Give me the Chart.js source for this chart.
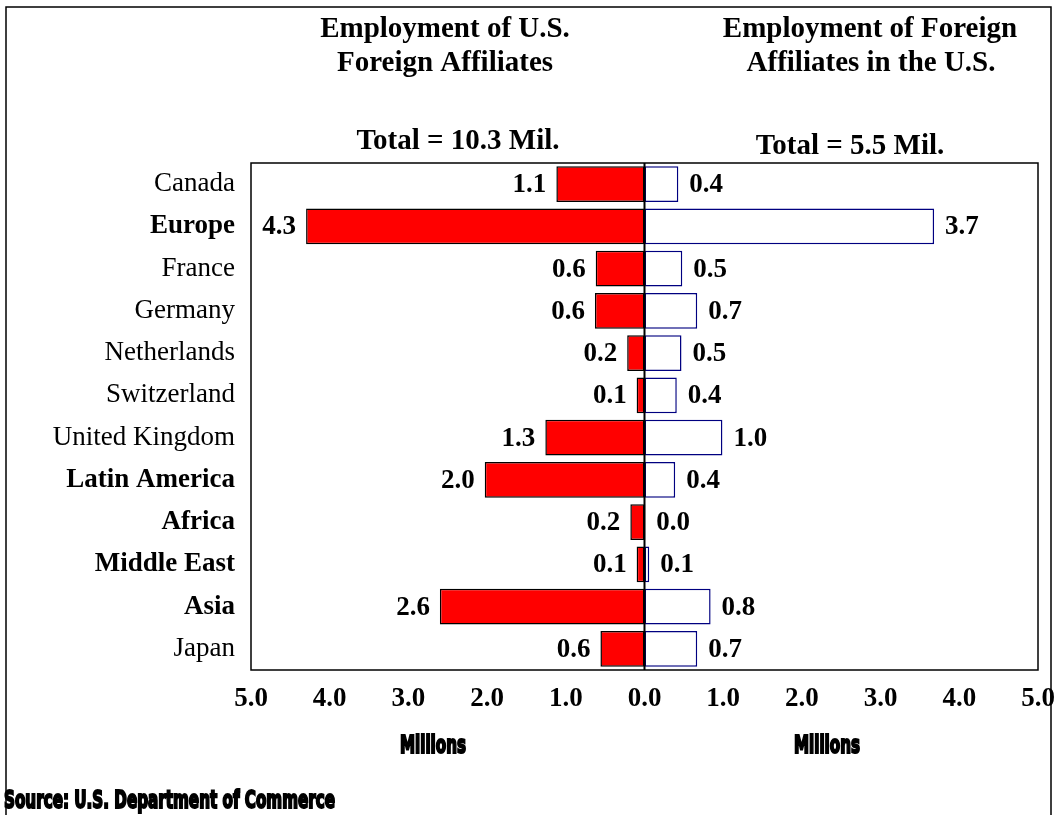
<!DOCTYPE html>
<html>
<head>
    <script src="https://cdn.jsdelivr.net/npm/chart.js@4.4.0/dist/chart.umd.min.js"></script>
    <style>
        body { margin: 0; background: #fff; }
    </style>
</head>
<body>
<canvas id="myChart" width="1058" height="815"></canvas>

<script>
    const regions = ["Canada", "Europe", "France", "Germany", "Netherlands", "Switzerland",
        "United Kingdom", "Latin America", "Africa", "Middle East", "Asia", "Japan"];
    const boldRegions = ["Europe", "Latin America", "Africa", "Middle East", "Asia"];
    // employment of U.S. foreign affiliates abroad (millions)
    const usAbroad = [1.12, 4.3, 0.62, 0.63, 0.22, 0.1, 1.26, 2.03, 0.18, 0.1, 2.6, 0.56];
    const usAbroadLabels = ["1.1", "4.3", "0.6", "0.6", "0.2", "0.1", "1.3", "2.0", "0.2", "0.1", "2.6", "0.6"];
    // employment of foreign affiliates in the U.S. (millions)
    const foreignInUS = [0.43, 3.68, 0.48, 0.67, 0.47, 0.41, 0.99, 0.39, 0.01, 0.06, 0.84, 0.67];
    const foreignInUSLabels = ["0.4", "3.7", "0.5", "0.7", "0.5", "0.4", "1.0", "0.4", "0.0", "0.1", "0.8", "0.7"];
    const axisTicks = [-5, -4, -3, -2, -1, 0, 1, 2, 3, 4, 5];

    const serif = "'Liberation Serif', 'Times New Roman', serif";

    function condensedText(ctx, text, x, y, targetWidth, size) {
        ctx.save();
        ctx.font = "bold " + size + "px 'DejaVu Sans Condensed', 'DejaVu Sans', sans-serif";
        let w = ctx.measureText(text).width;
        let sx = targetWidth / w;
        ctx.translate(x, y);
        ctx.scale(sx, 1);
        ctx.textAlign = "left";
        ctx.textBaseline = "middle";
        ctx.lineWidth = 2;
        ctx.strokeStyle = "#000";
        ctx.fillStyle = "#000";
        ctx.fillText(text, 0, 0);
        ctx.strokeText(text, 0, 0);
        ctx.restore();
    }

    const decorations = {
        id: "decorations",
        afterDatasetsDraw(chart) {
            const ctx = chart.ctx;
            const area = chart.chartArea;
            const xs = chart.scales.x;

            // value labels
            ctx.save();
            ctx.font = "bold 27px " + serif;
            ctx.fillStyle = "#000";
            ctx.textBaseline = "middle";
            chart.getDatasetMeta(0).data.forEach((bar, i) => {
                ctx.textAlign = "right";
                ctx.fillText(usAbroadLabels[i], bar.x - 10, bar.y + 1);
            });
            chart.getDatasetMeta(1).data.forEach((bar, i) => {
                ctx.textAlign = "left";
                ctx.fillText(foreignInUSLabels[i], bar.x + 11, bar.y + 1);
            });

            // plot box and zero line
            ctx.strokeStyle = "#000";
            ctx.lineWidth = 1.5;
            ctx.strokeRect(area.left, area.top, area.right - area.left, area.bottom - area.top);
            const x0 = xs.getPixelForValue(0);
            ctx.lineWidth = 2;
            ctx.beginPath();
            ctx.moveTo(x0, area.top);
            ctx.lineTo(x0, area.bottom);
            ctx.stroke();
            ctx.restore();
        },
        afterDraw(chart) {
            const ctx = chart.ctx;
            ctx.save();
            // outer frame
            ctx.strokeStyle = "#000";
            ctx.lineWidth = 1.5;
            ctx.beginPath();
            ctx.moveTo(6, 830);
            ctx.lineTo(6, 7);
            ctx.lineTo(1051, 7);
            ctx.lineTo(1051, 830);
            ctx.stroke();

            ctx.fillStyle = "#000";
            ctx.textAlign = "center";
            ctx.textBaseline = "middle";
            ctx.font = "bold 29px " + serif;
            ctx.fillText("Employment of U.S.", 445, 30);
            ctx.fillText("Foreign Affiliates", 445, 64);
            ctx.fillText("Employment of Foreign", 870, 30);
            ctx.fillText("Affiliates in the U.S.", 871, 64);
            ctx.fillText("Total = 10.3 Mil.", 458, 142);
            ctx.fillText("Total = 5.5 Mil.", 850, 147);
            ctx.restore();

            condensedText(ctx, "Millions", 400, 746, 66, 25);
            condensedText(ctx, "Millions", 794, 746, 66, 25);
            condensedText(ctx, "Source: U.S. Department of Commerce", 4, 801, 331, 25);
        }
    };

    new Chart("myChart", {
        type: "bar",
        data: {
            labels: regions,
            datasets: [{
                data: usAbroad.map(v => -v),
                backgroundColor: "#ff0000",
                borderColor: "#000000",
                borderWidth: 1.5,
                borderSkipped: false,
                stack: "s"
            }, {
                data: foreignInUS,
                backgroundColor: "#ffffff",
                borderColor: "#000080",
                borderWidth: 1.5,
                borderSkipped: false,
                stack: "s"
            }]
        },
        options: {
            indexAxis: "y",
            responsive: false,
            animation: false,
            devicePixelRatio: 1,
            datasets: {
                bar: { categoryPercentage: 1, barPercentage: 0.85 }
            },
            layout: { padding: { top: 163, right: 20, bottom: 105, left: 0 } },
            plugins: {
                legend: { display: false },
                tooltip: { enabled: false }
            },
            scales: {
                x: {
                    stacked: true,
                    min: -5,
                    max: 5,
                    afterBuildTicks: scale => {
                        scale.ticks = axisTicks.map(v => ({ value: v }));
                    },
                    afterFit: scale => {
                        scale.height = 40;
                        scale.paddingLeft = 0;
                        scale.paddingRight = 0;
                    },
                    grid: { display: false, drawTicks: false },
                    border: { display: false },
                    ticks: {
                        color: "#000",
                        padding: 13,
                        maxRotation: 0,
                        font: { family: serif, size: 27, weight: "bold" },
                        callback: v => Math.abs(v).toFixed(1)
                    }
                },
                y: {
                    stacked: true,
                    afterFit: scale => { scale.width = 251; },
                    grid: { display: false, drawTicks: false },
                    border: { display: false },
                    ticks: {
                        color: "#000",
                        padding: 16,
                        font: ctx => ({
                            family: serif,
                            size: 27,
                            weight: boldRegions.includes(regions[ctx.index]) ? "bold" : "normal"
                        })
                    }
                }
            }
        },
        plugins: [decorations]
    });
</script>
</body>
</html>
